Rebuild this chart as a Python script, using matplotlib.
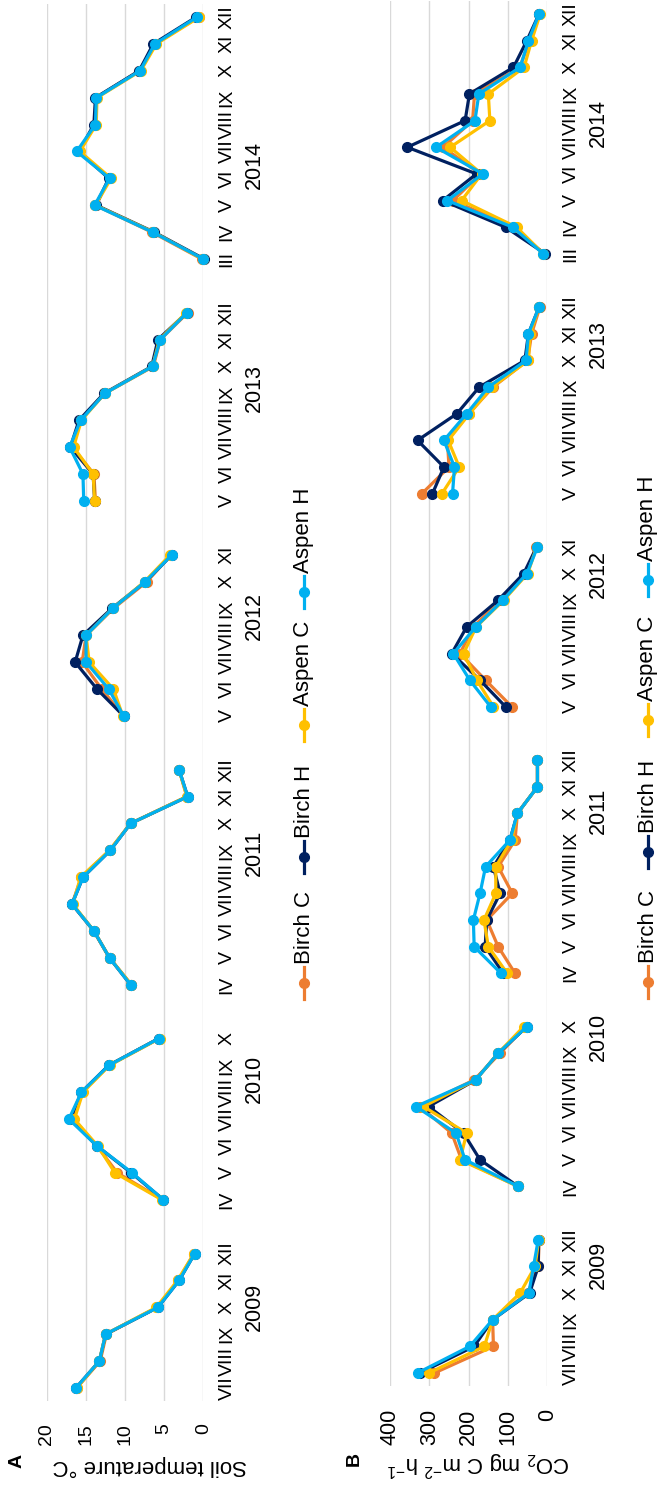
import matplotlib.pyplot as plt
from matplotlib.lines import Line2D

plt.rcParams['font.family'] = ['Liberation Sans', 'DejaVu Sans']
plt.rcParams['mathtext.fontset'] = 'custom'
plt.rcParams['mathtext.rm'] = 'Liberation Sans'
plt.rcParams['mathtext.default'] = 'regular'

years = [2009, 2010, 2011, 2012, 2013, 2014]
months = [["VII", "VIII", "IX", "X", "XI", "XII"],
          ["IV", "V", "VI", "VII", "VIII", "IX", "X"],
          ["IV", "V", "VI", "VII", "VIII", "IX", "X", "XI", "XII"],
          ["V", "VI", "VII", "VIII", "IX", "X", "XI"],
          ["V", "VI", "VII", "VIII", "IX", "X", "XI", "XII"],
          ["III", "IV", "V", "VI", "VII", "VIII", "IX", "X", "XI", "XII"]]

names = ["Birch C", "Birch H", "Aspen C", "Aspen H"]
colors = ["#ED7D31", "#002060", "#FFC000", "#00B0F0"]

# soil temperature, deg C
temp_birch_c = [[16.2, 13.2, 12.4, 5.9, 3.2, 1.2],
                [5.2, 11.0, 13.6, 16.7, 15.5, 12.1, 5.7],
                [9.2, 12.0, 14.0, 16.8, 15.6, 12.0, 9.3, 2.1, 3.1],
                [10.2, 13.0, 15.5, 15.0, 11.5, 7.2, 4.1],
                [13.8, 14.0, 16.8, 15.7, 12.6, 6.4, 5.5, 2.0],
                [0.2, 6.6, 13.8, 12.0, 16.0, 13.8, 13.7, 8.2, 6.2, 0.6]]
temp_birch_h = [[16.3, 13.3, 12.5, 5.8, 3.1, 1.1],
                [5.1, 9.2, 13.6, 17.0, 15.6, 12.1, 5.7],
                [9.3, 12.0, 14.0, 16.8, 15.4, 11.9, 9.3, 2.0, 3.1],
                [10.2, 13.6, 16.4, 15.4, 11.7, 7.4, 4.0],
                [13.9, 14.1, 17.0, 15.9, 12.7, 6.6, 5.8, 2.1],
                [-0.1, 6.3, 13.7, 12.1, 15.9, 14.0, 13.8, 8.2, 6.4, 0.9]]
temp_aspen_c = [[16.2, 13.3, 12.5, 6.0, 3.3, 1.2],
                [5.3, 11.3, 13.5, 16.5, 15.4, 12.0, 5.6],
                [9.2, 12.0, 14.0, 16.7, 15.7, 12.0, 9.3, 2.1, 3.1],
                [10.3, 11.5, 14.6, 15.0, 11.6, 7.5, 4.2],
                [13.9, 14.1, 16.6, 15.6, 12.6, 6.5, 5.6, 2.2],
                [0.1, 6.4, 13.8, 11.8, 15.8, 13.7, 13.6, 8.0, 6.0, 0.5]]
temp_aspen_h = [[16.3, 13.3, 12.5, 5.8, 3.1, 1.1],
                [5.1, 9.1, 13.6, 17.2, 15.6, 12.1, 5.7],
                [9.3, 12.0, 14.0, 16.8, 15.4, 11.9, 9.3, 2.0, 3.1],
                [10.2, 12.1, 15.0, 15.0, 11.6, 7.4, 4.0],
                [15.3, 15.4, 17.1, 15.7, 12.6, 6.5, 5.5, 2.1],
                [0.0, 6.5, 13.9, 12.0, 16.2, 13.8, 13.7, 8.1, 6.2, 0.8]]

# CO2 efflux, mg C m-2 h-1
co2_birch_c = [[287, 137, 139, 50, 23, 21],
               [74, 218, 243, 324, 186, 120, 55],
               [82, 125, 154, 89, 125, 82, 76, 25, 25],
               [90, 157, 222, 188, 119, 52, 29],
               [319, 250, 254, 200, 138, 50, 40, 19],
               [8, 85, 240, 170, 265, 190, 185, 70, 45, 20]]
co2_birch_h = [[324, 186, 139, 45, 23, 22],
               [74, 171, 213, 302, 182, 125, 52],
               [112, 158, 154, 120, 137, 95, 76, 25, 25],
               [106, 171, 243, 205, 125, 60, 27],
               [292, 263, 330, 230, 173, 57, 48, 21],
               [5, 106, 266, 180, 356, 209, 198, 86, 52, 21]]
co2_aspen_c = [[301, 160, 139, 69, 31, 22],
               [74, 222, 205, 315, 182, 125, 60],
               [102, 150, 161, 131, 131, 91, 76, 25, 25],
               [137, 179, 213, 181, 111, 50, 27],
               [268, 224, 252, 198, 141, 48, 44, 21],
               [10, 78, 218, 167, 247, 146, 150, 59, 40, 18]]
co2_aspen_h = [[330, 197, 139, 47, 35, 23],
               [74, 209, 232, 334, 182, 125, 52],
               [118, 186, 188, 171, 157, 95, 76, 25, 25],
               [144, 197, 239, 182, 113, 52, 25],
               [241, 236, 263, 205, 150, 54, 48, 21],
               [10, 88, 254, 164, 283, 184, 174, 69, 48, 21]]

# category slots, one empty slot between years
pos = []
start = 0
for m in months:
    pos.append(list(range(start, start + len(m))))
    start += len(m) + 1
n_slots = start - 1

W, H = 658, 1486
fig = plt.figure(figsize=(W / 100, H / 100), dpi=100)


def add_ax(x0, x1, ytop, ybot):
    return fig.add_axes([x0 / W, (H - ybot) / H, (x1 - x0) / W, (ybot - ytop) / H])


def draw_panel(ax, series, vmax, vstep, year_pos, tick_size):
    for col, s in zip(colors, series):
        for p, vals in zip(pos, s):
            ax.plot(vals, p, color=col, lw=2.3, marker='o', ms=7, clip_on=False,
                    solid_joinstyle='round')
    ax.set_xlim(vmax, 0)
    ax.set_ylim(-0.5, n_slots - 0.5)
    ax.set_xticks(range(0, vmax + 1, vstep))
    ax.tick_params(axis='x', length=0, pad=16, labelsize=tick_size, labelrotation=90)
    for t in ax.get_xticklabels():
        t.set_va('top')
    flat_pos = [p for grp in pos for p in grp]
    flat_lab = [m for grp in months for m in grp]
    ax.yaxis.tick_right()
    ax.set_yticks(flat_pos, flat_lab)
    ax.tick_params(axis='y', length=0, pad=11, labelsize=14, labelrotation=90)
    for t in ax.get_yticklabels():
        t.set_va('center')
        t.set_ha('left')
    ax.grid(axis='x', color='#d9d9d9', lw=1)
    ax.set_axisbelow(True)
    for sp in ax.spines.values():
        sp.set_visible(False)
    for yr, yp in zip(years, year_pos):
        ax.annotate(str(yr), xy=(1, yp), xycoords=ax.get_yaxis_transform(),
                    xytext=(37, 0), textcoords='offset points', rotation=90,
                    ha='center', va='center', fontsize=15.5)


def draw_legend(x, ys):
    for name, col, y in zip(names, colors, ys):
        fig.add_artist(Line2D([x / W, x / W], [(H - y - 16) / H, (H - y + 16) / H],
                              color=col, lw=2.3, transform=fig.transFigure))
        fig.add_artist(Line2D([x / W], [(H - y) / H], color=col, marker='o', ms=7,
                              transform=fig.transFigure))
        fig.text(x / W, (H - y + 19) / H, name, rotation=90, ha='center', va='bottom',
                 fontsize=16)


axA = add_ax(47, 203.3, 3.6, 1401.4)
draw_panel(axA, [temp_birch_c, temp_birch_h, temp_aspen_c, temp_aspen_h], 20, 5,
           [3.0, 11.5, 19.9, 28.7, 37.2, 45.5], 14)
axB = add_ax(390, 547.3, 0.7, 1386.3)
draw_panel(axB, [co2_birch_c, co2_birch_h, co2_aspen_c, co2_aspen_h], 400, 100,
           [4.05, 12.6, 21.1, 30.0, 38.6, 46.9], 15.5)

draw_legend(304, [983, 857, 725, 592])
draw_legend(648, [982, 852, 720, 580])

fig.text(150 / W, (H - 1466) / H, "Soil temperature \u00b0C", rotation=180,
         ha='center', va='center', fontsize=16)
fig.text(478 / W, (H - 1463) / H, "CO$_2$ mg C m$^{-2}$ h$^{-1}$", rotation=180,
         ha='center', va='center', fontsize=16)
fig.text(17 / W, (H - 1461) / H, "A", rotation=90, ha='center', va='center',
         fontsize=14, fontweight='bold')
fig.text(354 / W, (H - 1459) / H, "B", rotation=90, ha='center', va='center',
         fontsize=14, fontweight='bold')

fig.savefig("out.png", dpi=100)
